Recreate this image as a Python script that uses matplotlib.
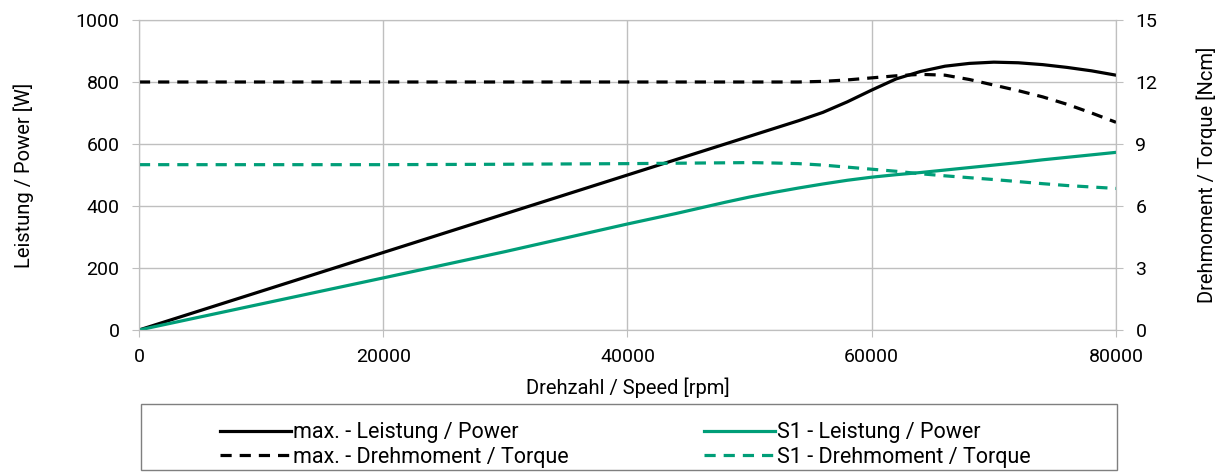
import matplotlib.pyplot as plt
from matplotlib.patches import Rectangle

plt.rcParams['font.family'] = ['Roboto', 'DejaVu Sans']

# Drehzahl [rpm]
drehzahl = [0, 10000, 20000, 30000, 40000, 42000, 44000, 46000, 48000, 50000,
            52000, 54000, 56000, 58000, 60000, 62000, 64000, 66000, 68000, 70000,
            72000, 74000, 76000, 78000, 80000]

# max. Leistung [W]
max_leistung = [0, 125, 250, 375, 500, 525, 550, 575, 600, 625,
                650, 675, 702, 736, 774, 810, 834, 851, 860, 864,
                862, 856, 847, 836, 822]

# max. Drehmoment [Ncm]
max_drehmoment = [12.0, 12.0, 12.0, 12.0, 12.0, 12.0, 12.0, 12.0, 12.0, 12.0,
                  12.0, 12.0, 12.03, 12.1, 12.2, 12.3, 12.37, 12.33, 12.12, 11.85,
                  11.58, 11.28, 10.92, 10.5, 10.05]

# S1 Leistung [W]
s1_leistung = [0, 84, 168, 253, 342, 359, 376, 394, 412, 429,
               444, 458, 471, 483, 493, 501, 508, 516, 524, 532,
               540, 549, 557, 565, 573]

# S1 Drehmoment [Ncm]
s1_drehmoment = [8.0, 8.0, 8.0, 8.02, 8.05, 8.06, 8.07, 8.08, 8.09, 8.1,
                 8.08, 8.05, 7.98, 7.88, 7.78, 7.68, 7.56, 7.46, 7.37, 7.28,
                 7.18, 7.08, 6.99, 6.92, 6.85]

gruen = '#009e78'
grau = '#bfbfbf'

fig = plt.figure(figsize=(12.21, 4.76), dpi=100)
ax = fig.add_axes([0.1138, 0.3067, 0.8002, 0.6513])
ax2 = ax.twinx()

ax.plot(drehzahl, max_leistung, color='black', lw=2.3, label='max. - Leistung / Power')
ax2.plot(drehzahl, max_drehmoment, color='black', lw=2.3, dashes=(3.5, 2.5),
         label='max. - Drehmoment / Torque')
ax.plot(drehzahl, s1_leistung, color=gruen, lw=2.3, label='S1 - Leistung / Power')
ax2.plot(drehzahl, s1_drehmoment, color=gruen, lw=2.3, dashes=(3.5, 2.5),
         label='S1 - Drehmoment / Torque')

# Achsen
ax.set_xlim(0, 80000)
ax.set_ylim(0, 1000)
ax2.set_ylim(0, 15)
ax.set_xticks(range(0, 80001, 20000))
ax.set_yticks(range(0, 1001, 200))
ax2.set_yticks(range(0, 16, 3))
ax.grid(color=grau, lw=1)
ax.set_axisbelow(True)

for a in (ax, ax2):
    for s in a.spines.values():
        s.set_color(grau)
    a.tick_params(colors=grau, labelcolor='black', labelsize=14, length=5, pad=9)
ax.tick_params(axis='x', pad=8)

ax.set_xlabel('Drehzahl / Speed [rpm]', fontsize=14.5, labelpad=8)
ax.set_ylabel('Leistung / Power [W]', fontsize=14.5, labelpad=30)
ax2.set_ylabel('Drehmoment / Torque [Ncm]', fontsize=14.5, labelpad=28)

# Legende
h1, l1 = ax.get_legend_handles_labels()
h2, l2 = ax2.get_legend_handles_labels()
handles = [h1[0], h2[0], h1[1], h2[1]]
labels = [l1[0], l2[0], l1[1], l2[1]]
fig.legend(handles, labels, ncol=2, loc='center', bbox_to_anchor=(0.512, 0.065),
           frameon=False, fontsize=15.5, handlelength=3.3, handletextpad=0.1,
           columnspacing=6.3, labelspacing=0.15)
fig.patches.append(Rectangle((0.1155, 0.0126), 0.7995, 0.1386, transform=fig.transFigure,
                             fill=False, edgecolor='#7f7f7f', lw=1))

plt.savefig('out.png', dpi=100)
